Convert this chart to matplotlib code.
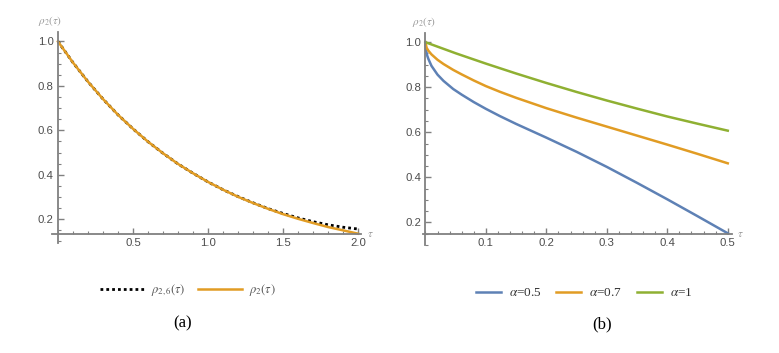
import numpy as np
import matplotlib
matplotlib.use('Agg')
import matplotlib.pyplot as plt
from matplotlib.ticker import MultipleLocator, FixedLocator

plt.rcParams['mathtext.fontset'] = 'stix'

# ---- data ----
# (a) rho_2(tau) and its truncated approximation rho_{2,6}(tau)
tau_a = [0.0, 0.1, 0.2, 0.3, 0.4, 0.5, 0.6, 0.7, 0.8, 0.9, 1.0,
         1.1, 1.2, 1.3, 1.4, 1.5, 1.6, 1.7, 1.8, 1.9, 2.0]
rho2_a = [1.0, 0.905, 0.819, 0.741, 0.670, 0.607, 0.549, 0.497, 0.449,
          0.407, 0.368, 0.333, 0.301, 0.273, 0.247, 0.223, 0.202, 0.183,
          0.165, 0.150, 0.135]
rho26_a = [1.0, 0.905, 0.819, 0.741, 0.670, 0.607, 0.549, 0.497, 0.449,
           0.407, 0.368, 0.333, 0.302, 0.274, 0.248, 0.226, 0.206, 0.189,
           0.175, 0.164, 0.156]

# (b) rho_2(tau) for several alpha
tau_b05 = [0.0, 0.001, 0.003, 0.005, 0.01, 0.02, 0.03, 0.046, 0.06, 0.08,
           0.1, 0.123, 0.15, 0.2, 0.25, 0.3, 0.35, 0.4, 0.45, 0.5]
rho_b05 = [1.0, 0.965, 0.94, 0.925, 0.895, 0.856, 0.828, 0.792, 0.767,
           0.734, 0.704, 0.672, 0.637, 0.576, 0.513, 0.446, 0.375, 0.302,
           0.227, 0.151]
tau_b07 = [0.0, 0.002, 0.005, 0.01, 0.02, 0.03, 0.046, 0.06, 0.08, 0.1,
           0.123, 0.15, 0.2, 0.25, 0.3, 0.35, 0.4, 0.45, 0.5]
rho_b07 = [1.0, 0.975, 0.962, 0.946, 0.922, 0.903, 0.877, 0.857, 0.830,
           0.805, 0.780, 0.753, 0.707, 0.665, 0.625, 0.585, 0.545, 0.504,
           0.462]
tau_b1 = [0.0, 0.05, 0.1, 0.15, 0.2, 0.25, 0.3, 0.35, 0.4, 0.45, 0.5]
rho_b1 = [1.0, 0.951, 0.905, 0.861, 0.819, 0.779, 0.741, 0.705, 0.670,
          0.638, 0.607]

BLUE = '#5E81B5'
ORANGE = '#E19C24'
GREEN = '#8FB032'
AXIS_C = '#808080'
LABEL_C = '#4d4d4d'

W, H = 779, 353
fig = plt.figure(figsize=(W / 100, H / 100), dpi=100)
fig.patch.set_facecolor('white')


def px_axes(x0, x1, y_top, y_bot):
    return fig.add_axes([x0 / W, (H - y_bot) / H, (x1 - x0) / W,
                         (y_bot - y_top) / H])


def style_axes(ax, x_origin, y_origin):
    for s in ('top', 'right'):
        ax.spines[s].set_visible(False)
    ax.spines['left'].set_position(('data', x_origin))
    ax.spines['bottom'].set_position(('data', y_origin))
    for s in ('left', 'bottom'):
        ax.spines[s].set_color(AXIS_C)
        ax.spines[s].set_linewidth(1.3)
    ax.tick_params(which='major', direction='in', length=4, width=1,
                   color=AXIS_C, labelsize=8.2, labelcolor=LABEL_C, pad=3)
    ax.tick_params(which='minor', direction='in', length=2.3, width=0.8,
                   color=AXIS_C)
    for lab in ax.get_xticklabels() + ax.get_yticklabels():
        lab.set_family('Liberation Sans')
    ax.patch.set_alpha(0)


# ---- (a) ----
ax1 = px_axes(52, 361, 31.5, 243)
ax1.set_xlim(-0.04, 2.02)
ax1.set_ylim(0.093, 1.045)
ax1.plot(tau_a, rho26_a, color='black', lw=2.0, ls=(0, (1.0, 1.1)),
         dash_capstyle='butt', label=r'$\rho_{2,6}(\tau)$')
ax1.plot(tau_a, rho2_a, color=ORANGE, lw=1.8, label=r'$\rho_{2}(\tau)$')
ax1.xaxis.set_major_locator(FixedLocator([0.5, 1.0, 1.5, 2.0]))
ax1.xaxis.set_minor_locator(MultipleLocator(0.1))
ax1.yaxis.set_major_locator(FixedLocator([0.2, 0.4, 0.6, 0.8, 1.0]))
ax1.yaxis.set_minor_locator(MultipleLocator(0.05))
style_axes(ax1, 0.0, 0.135)
ax1.text(2.06, 0.135, r'$\tau$', color='#999999', fontsize=8,
         ha='left', va='center')
ax1.text(-0.13, 1.06, r'$\rho_2(\tau)$', color='#999999', fontsize=8,
         ha='left', va='bottom')

leg1 = ax1.legend(loc='center', bbox_to_anchor=(188 / W, 1 - 290 / H),
                  bbox_transform=fig.transFigure, ncol=2, frameon=False,
                  fontsize=9, handlelength=3.5, handletextpad=0.6,
                  columnspacing=1.0, labelcolor='#555555')
fig.text(183 / W, 1 - 323 / H, '(a)', family='Liberation Serif',
         fontsize=12, ha='center', va='center')

# ---- (b) ----
ax2 = px_axes(423, 732, 33, 245)
ax2.set_xlim(-0.004, 0.507)
ax2.set_ylim(0.099, 1.041)
ax2.plot(tau_b05, rho_b05, color=BLUE, lw=1.8, label=r'$\alpha$=0.5')
ax2.plot(tau_b07, rho_b07, color=ORANGE, lw=1.8, label=r'$\alpha$=0.7')
ax2.plot(tau_b1, rho_b1, color=GREEN, lw=1.8, label=r'$\alpha$=1')
ax2.xaxis.set_major_locator(FixedLocator([0.1, 0.2, 0.3, 0.4, 0.5]))
ax2.xaxis.set_minor_locator(MultipleLocator(0.02))
ax2.yaxis.set_major_locator(FixedLocator([0.2, 0.4, 0.6, 0.8, 1.0]))
ax2.yaxis.set_minor_locator(MultipleLocator(0.05))
style_axes(ax2, 0.0, 0.15)
ax2.text(0.515, 0.15, r'$\tau$', color='#999999', fontsize=8,
         ha='left', va='center')
ax2.text(-0.022, 1.06, r'$\rho_2(\tau)$', color='#999999', fontsize=8,
         ha='left', va='bottom')

leg2 = ax2.legend(loc='center', bbox_to_anchor=(584 / W, 1 - 293 / H),
                  bbox_transform=fig.transFigure, ncol=3, frameon=False,
                  handlelength=1.9, handletextpad=0.6,
                  columnspacing=1.1, labelcolor='#333333',
                  prop={'family': 'Liberation Serif', 'size': 9.5})
fig.text(602 / W, 1 - 324 / H, '(b)', family='Liberation Serif',
         fontsize=12, ha='center', va='center')

fig.savefig('out.png', dpi=100, facecolor='white')
